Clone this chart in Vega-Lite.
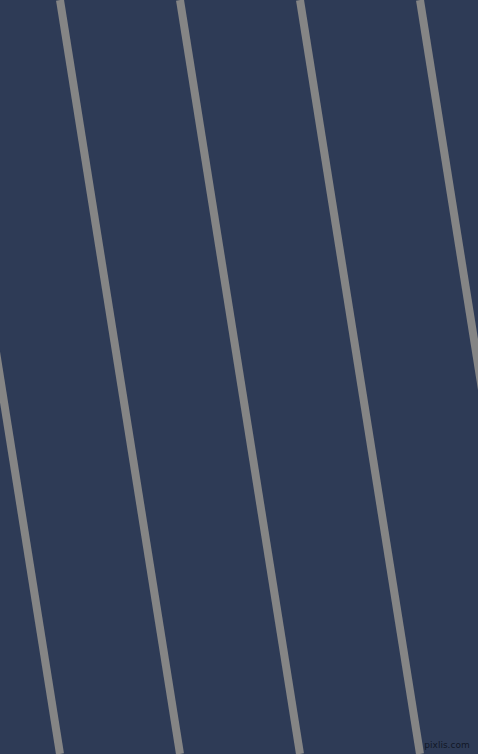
{
  "$schema": "https://vega.github.io/schema/vega-lite/v6.json",
  "width": 478,
  "height": 754,
  "autosize": {"type": "fit", "contains": "padding"},
  "padding": 0,
  "background": "#2e3b56",
  "config": {"view": {"stroke": null, "fill": "#2e3b56"}},
  "datasets": {
    "stripes": [
      {"xt": -60, "xb": 60, "yt": 0, "yb": 754},
      {"xt": 60, "xb": 180, "yt": 0, "yb": 754},
      {"xt": 180, "xb": 300, "yt": 0, "yb": 754},
      {"xt": 300, "xb": 420, "yt": 0, "yb": 754},
      {"xt": 420, "xb": 540, "yt": 0, "yb": 754}
    ],
    "mark": [
      {"x": 447, "y": 745, "label": "pixlis.com"}
    ]
  },
  "layer": [
    {
      "data": {"name": "stripes"},
      "mark": {"type": "rule", "color": "#858585", "strokeWidth": 8, "clip": true},
      "encoding": {
        "x": {"field": "xt", "type": "quantitative", "scale": {"domain": [0, 478], "nice": false, "zero": false}, "axis": null},
        "x2": {"field": "xb"},
        "y": {"field": "yt", "type": "quantitative", "scale": {"domain": [0, 754], "nice": false, "reverse": true}, "axis": null},
        "y2": {"field": "yb"}
      }
    },
    {
      "data": {"name": "mark"},
      "mark": {"type": "text", "font": "DejaVu Sans", "fontSize": 9, "color": "#111827", "baseline": "middle", "align": "center"},
      "encoding": {
        "x": {"field": "x", "type": "quantitative"},
        "y": {"field": "y", "type": "quantitative"},
        "text": {"field": "label"}
      }
    }
  ]
}
